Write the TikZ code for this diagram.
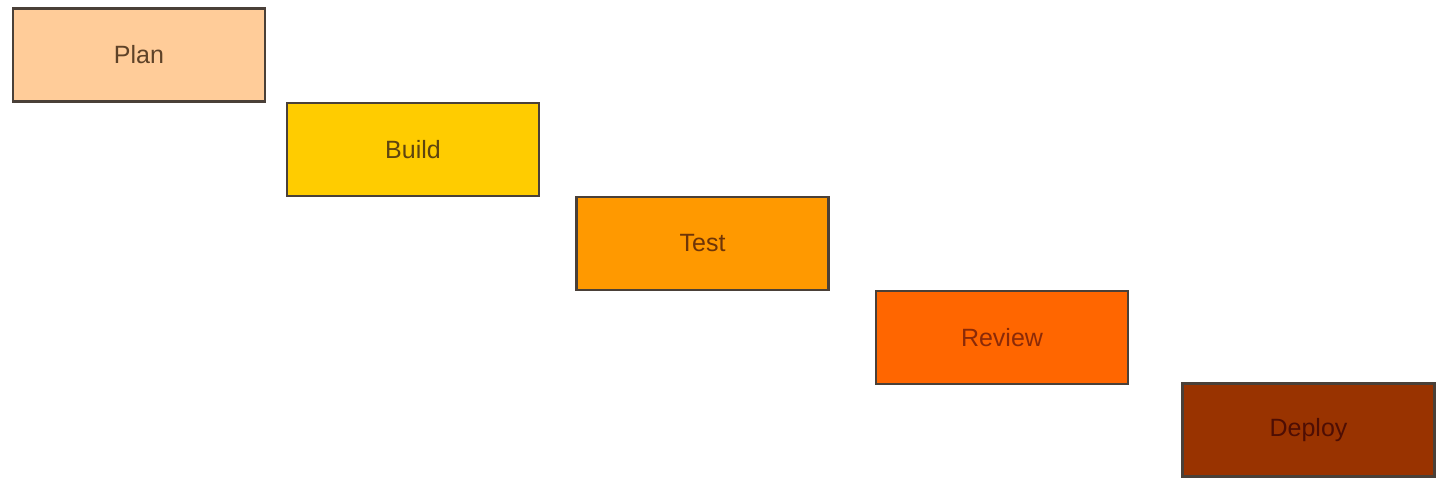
\documentclass[tikz,border=0pt]{standalone}
\usepackage{fontspec}
\setmainfont{Liberation Sans}
\definecolor{planfill}{HTML}{FFCC99}
\definecolor{buildfill}{HTML}{FFCC00}
\definecolor{testfill}{HTML}{FF9900}
\definecolor{reviewfill}{HTML}{FF6600}
\definecolor{deployfill}{HTML}{993300}
\definecolor{edge}{HTML}{4A4038}
\definecolor{plantext}{HTML}{5E4228}
\definecolor{buildtext}{HTML}{5E4510}
\definecolor{testtext}{HTML}{6E3508}
\definecolor{reviewtext}{HTML}{8A2A08}
\definecolor{deploytext}{HTML}{4E0E04}
\begin{document}
\begin{tikzpicture}[x=1pt,y=-1pt,
  stage/.style={draw=edge,line width=2.2pt,minimum width=252pt,minimum height=93pt,
    inner sep=0pt,font=\fontsize{25}{29}\selectfont}]
\useasboundingbox[fill=white] (0,0) rectangle (1437,479);
\node[stage,fill=planfill,text=plantext] (plan) at (139,55) {Plan};
\node[stage,fill=buildfill,text=buildtext] (build) at (413,149.5) {Build};
\node[stage,fill=testfill,text=testtext] (test) at (702.5,243.5) {Test};
\node[stage,fill=reviewfill,text=reviewtext] (review) at (1002,337.5) {Review};
\node[stage,fill=deployfill,text=deploytext] (deploy) at (1308.5,430) {Deploy};
\end{tikzpicture}
\end{document}
